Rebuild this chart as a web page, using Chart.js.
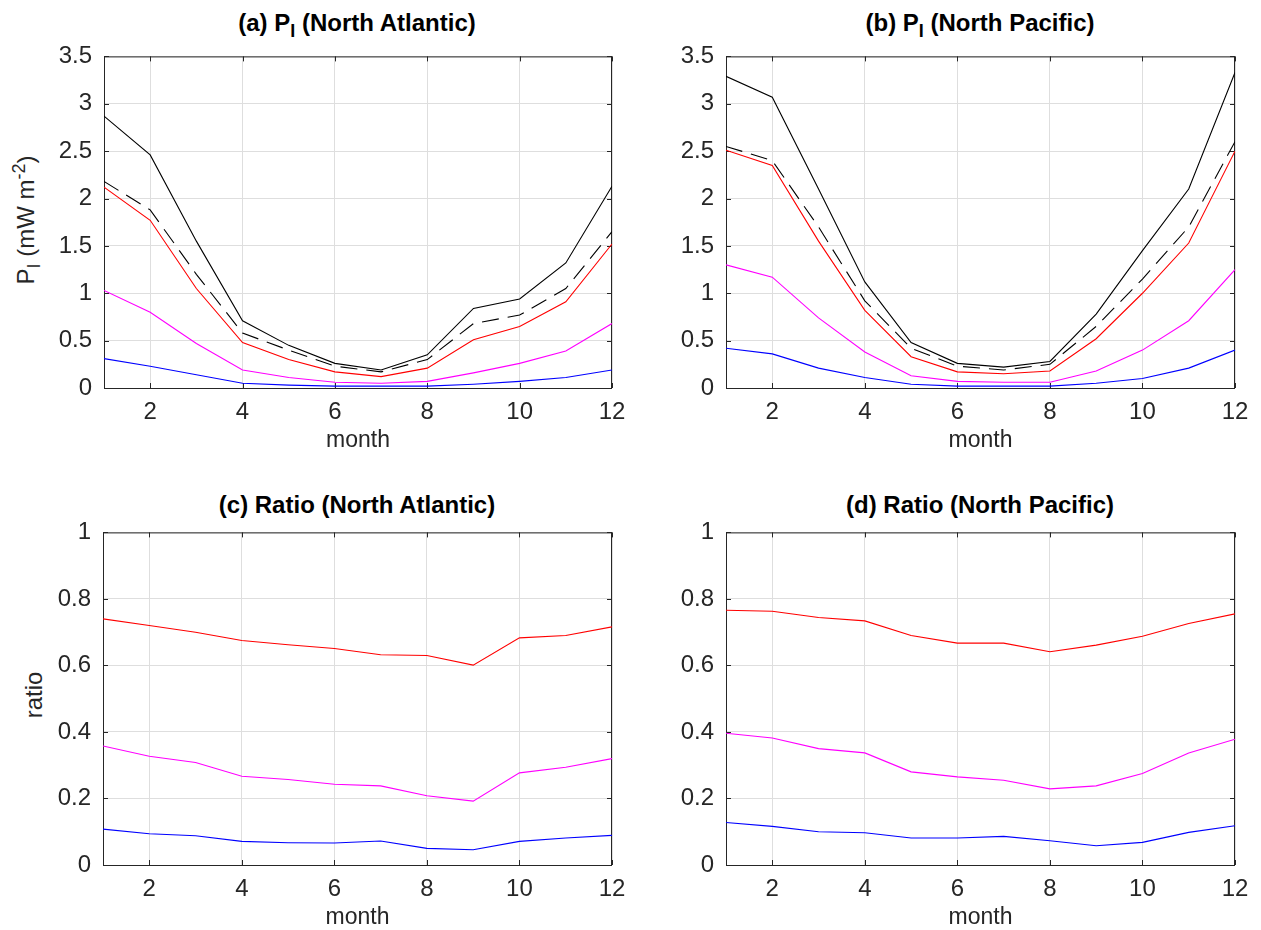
<!DOCTYPE html>
<html>
<head>
<meta charset="utf-8">
<script src="https://cdn.jsdelivr.net/npm/chart.js@4.4.0/dist/chart.umd.min.js"></script>
<style>
  body { margin: 0; background: #fff; width: 1261px; height: 930px; position: relative; overflow: hidden;
         font-family: "Liberation Sans", Arial, sans-serif; }
  canvas { position: absolute; }
  .ttl { position: absolute; font-weight: bold; font-size: 24px; color: #000; white-space: nowrap;
         transform: translate(-50%, -50%); }
  .ylab { position: absolute; font-size: 24px; color: #262626; white-space: nowrap;
          transform: translate(-50%, -50%) rotate(-90deg); }
  sub, sup { font-size: 75%; line-height: 0; }
</style>
</head>
<body>
<div class="ttl" style="left:357px;top:23px">(a) P<sub>I</sub> (North Atlantic)</div>
<div class="ttl" style="left:980px;top:23px">(b) P<sub>I</sub> (North Pacific)</div>
<div class="ttl" style="left:357px;top:505px">(c) Ratio (North Atlantic)</div>
<div class="ttl" style="left:980px;top:505px">(d) Ratio (North Pacific)</div>
<div class="ylab" style="left:26px;top:220px">P<sub>I</sub>&nbsp;(mW&nbsp;m<sup>-2</sup>)</div>
<div class="ylab" style="left:34px;top:695px">ratio</div>

<canvas id="pa"></canvas>
<canvas id="pb"></canvas>
<canvas id="pc"></canvas>
<canvas id="pd"></canvas>

<script>
// months and x tick labels
const months = [1, 2, 3, 4, 5, 6, 7, 8, 9, 10, 11, 12];
const xTickValues = [2, 4, 6, 8, 10, 12];

// (a) P_I North Atlantic
const naSolid   = [2.87, 2.46, 1.55, 0.71, 0.45, 0.26, 0.19, 0.35, 0.84, 0.94, 1.32, 2.13];
const naDashed  = [2.18, 1.88, 1.20, 0.58, 0.40, 0.23, 0.17, 0.30, 0.68, 0.77, 1.05, 1.65];
const naRed     = [2.12, 1.77, 1.05, 0.48, 0.30, 0.17, 0.12, 0.21, 0.51, 0.65, 0.91, 1.52];
const naMagenta = [1.03, 0.80, 0.47, 0.19, 0.11, 0.06, 0.05, 0.07, 0.16, 0.26, 0.39, 0.68];
const naBlue    = [0.31, 0.23, 0.14, 0.05, 0.03, 0.02, 0.02, 0.02, 0.04, 0.07, 0.11, 0.19];

// (b) P_I North Pacific
const npSolid   = [3.29, 3.07, 2.10, 1.12, 0.48, 0.26, 0.22, 0.28, 0.78, 1.45, 2.10, 3.33];
const npDashed  = [2.55, 2.40, 1.70, 0.92, 0.42, 0.23, 0.19, 0.25, 0.65, 1.15, 1.70, 2.60];
const npRed     = [2.51, 2.35, 1.55, 0.82, 0.33, 0.17, 0.15, 0.18, 0.52, 1.00, 1.53, 2.50];
const npMagenta = [1.30, 1.17, 0.74, 0.38, 0.13, 0.07, 0.06, 0.06, 0.18, 0.40, 0.71, 1.25];
const npBlue    = [0.42, 0.36, 0.21, 0.11, 0.04, 0.02, 0.02, 0.02, 0.05, 0.10, 0.21, 0.40];

// (c) ratio North Atlantic
const naRatioRed     = [0.740, 0.720, 0.700, 0.675, 0.662, 0.651, 0.632, 0.630, 0.601, 0.683, 0.690, 0.716];
const naRatioMagenta = [0.358, 0.327, 0.308, 0.267, 0.257, 0.243, 0.238, 0.208, 0.192, 0.277, 0.294, 0.320];
const naRatioBlue    = [0.108, 0.094, 0.088, 0.071, 0.067, 0.066, 0.072, 0.050, 0.046, 0.071, 0.081, 0.089];

// (d) ratio North Pacific
const npRatioRed     = [0.766, 0.763, 0.744, 0.734, 0.690, 0.667, 0.667, 0.641, 0.661, 0.688, 0.726, 0.755];
const npRatioMagenta = [0.396, 0.382, 0.350, 0.337, 0.280, 0.265, 0.255, 0.229, 0.238, 0.275, 0.337, 0.378];
const npRatioBlue    = [0.128, 0.116, 0.100, 0.097, 0.081, 0.081, 0.086, 0.073, 0.058, 0.068, 0.098, 0.118];

const AXIS = '#262626';
const GRID = '#dedede';
const FONT = '"Liberation Sans", Arial, sans-serif';

function line(values, color, dash) {
  return {
    data: months.map((m, i) => ({ x: m, y: values[i] })),
    borderColor: color,
    borderWidth: 1.1,
    borderDash: dash || [],
    pointRadius: 0,
    fill: false,
    tension: 0
  };
}

// matlab style tick text: 3 not 3.0
const fmt = v => String(Math.round(v * 100) / 100);

// box round the plot + inward tick marks
const boxTicks = {
  id: 'boxTicks',
  beforeDatasetsDraw(chart) {
    const { ctx, chartArea: a, scales: { x, y } } = chart;
    ctx.save();
    ctx.strokeStyle = AXIS;
    ctx.lineWidth = 1;
    ctx.beginPath();
    x.ticks.forEach(t => {
      const px = Math.round(x.getPixelForValue(t.value)) + 0.5;
      ctx.moveTo(px, a.bottom); ctx.lineTo(px, a.bottom - 5);
      ctx.moveTo(px, a.top); ctx.lineTo(px, a.top + 5);
    });
    y.ticks.forEach(t => {
      const py = Math.round(y.getPixelForValue(t.value)) + 0.5;
      ctx.moveTo(a.left, py); ctx.lineTo(a.left + 5, py);
      ctx.moveTo(a.right, py); ctx.lineTo(a.right - 5, py);
    });
    ctx.stroke();
    ctx.strokeRect(a.left + 0.5, a.top + 0.5, a.right - a.left - 1, a.bottom - a.top);
    ctx.restore();
  }
};

function makePanel(id, box, yMax, yStep, datasets) {
  const padL = 100, padT = 20, padR = 25, xH = 72;
  const cv = document.getElementById(id);
  cv.width = box.r - box.l + padL + padR;
  cv.height = box.b - box.t + padT + xH;
  cv.style.left = (box.l - padL) + 'px';
  cv.style.top = (box.t - padT) + 'px';

  return new Chart(cv, {
    type: 'line',
    data: { datasets },
    options: {
      responsive: false,
      animation: false,
      events: [],
      layout: { padding: { top: padT, right: padR, left: 0, bottom: 0 } },
      plugins: { legend: { display: false }, tooltip: { enabled: false } },
      scales: {
        x: {
          type: 'linear', min: 1, max: 12,
          afterFit: s => { s.height = xH; },
          afterBuildTicks: s => { s.ticks = xTickValues.map(v => ({ value: v })); },
          grid: { color: GRID, drawTicks: false },
          border: { display: false },
          ticks: { color: AXIS, font: { family: FONT, size: 24 }, padding: 10, maxRotation: 0, autoSkip: false,
                   callback: fmt },
          title: { display: true, text: 'month', color: AXIS, font: { family: FONT, size: 23 }, padding: { top: 0, bottom: 6 } }
        },
        y: {
          type: 'linear', min: 0, max: yMax,
          afterFit: s => { s.width = padL; },
          grid: { color: GRID, drawTicks: false },
          border: { display: false },
          ticks: { stepSize: yStep, color: AXIS, font: { family: FONT, size: 24 }, padding: 12, callback: fmt }
        }
      }
    },
    plugins: [boxTicks]
  });
}

makePanel('pa', { l: 104, t: 50, r: 612, b: 388 }, 3.5, 0.5, [
  line(naBlue, '#0000ff'), line(naMagenta, '#ff00ff'), line(naRed, '#ff0000'),
  line(naDashed, '#000000', [17, 9]), line(naSolid, '#000000')
]);
makePanel('pb', { l: 726, t: 50, r: 1235, b: 388 }, 3.5, 0.5, [
  line(npBlue, '#0000ff'), line(npMagenta, '#ff00ff'), line(npRed, '#ff0000'),
  line(npDashed, '#000000', [17, 9]), line(npSolid, '#000000')
]);
makePanel('pc', { l: 103, t: 526, r: 612, b: 865 }, 1, 0.2, [
  line(naRatioBlue, '#0000ff'), line(naRatioMagenta, '#ff00ff'), line(naRatioRed, '#ff0000')
]);
makePanel('pd', { l: 726, t: 526, r: 1235, b: 865 }, 1, 0.2, [
  line(npRatioBlue, '#0000ff'), line(npRatioMagenta, '#ff00ff'), line(npRatioRed, '#ff0000')
]);
</script>
</body>
</html>
